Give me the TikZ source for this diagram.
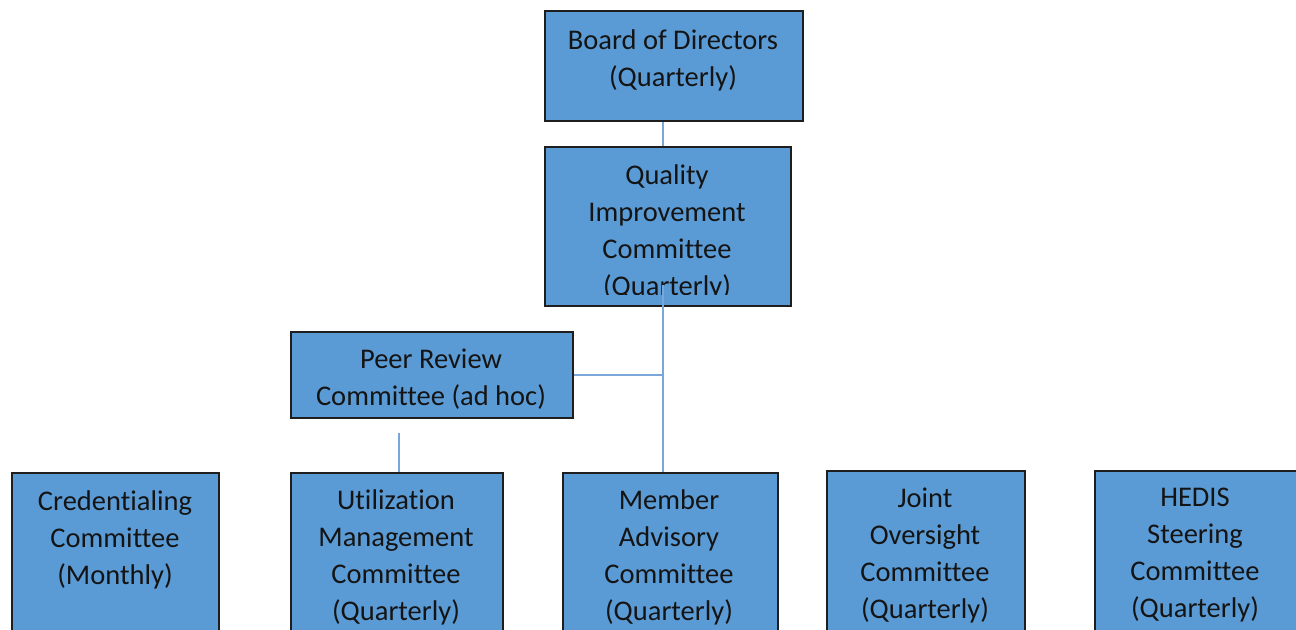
\documentclass[tikz,border=0pt]{standalone}
\usepackage{fontspec}
\setmainfont{Carlito}[Ligatures=NoCommon]
\definecolor{boxfill}{HTML}{5B9BD5}
\definecolor{boxline}{HTML}{1E1E1E}
\definecolor{connline}{HTML}{7AA6DA}
\definecolor{txtcol}{HTML}{141414}
\begin{document}
\begin{tikzpicture}[x=1bp,y=-1bp,
  box/.style={draw=boxline, line width=2bp, fill=boxfill, rectangle, anchor=north west, inner sep=0pt},
  txt/.style={text=txtcol, align=center, font=\fontsize{28.5bp}{37bp}\selectfont, inner sep=0pt},
  conn/.style={draw=connline, line width=1.3bp}]
\useasboundingbox (0,0) rectangle (1296,630);
\clip (0,0) rectangle (1296,630);
% boxes
\node[box, minimum width=258bp, minimum height=110bp] (board) at (544,10) {};
\node[box, minimum width=246bp, minimum height=159bp] (qic) at (544,146) {};
\node[box, minimum width=282bp, minimum height=86bp] (peer) at (290,331) {};
\node[box, minimum width=207bp, minimum height=220bp] (cred) at (11,472) {};
\node[box, minimum width=212bp, minimum height=220bp] (um) at (290,472) {};
\node[box, minimum width=215bp, minimum height=220bp] (mac) at (562,472) {};
\node[box, minimum width=198bp, minimum height=220bp] (joc) at (826,470) {};
\node[box, minimum width=202bp, minimum height=220bp] (hedis) at (1094,470) {};
% texts
\node[txt] (boardt) at (673,60) {Board of Directors\\(Quarterly)};
\begin{scope}
\clip (545,147) rectangle (789,295);
\node[txt] (qict) at (667,232) {Quality\\Improvement\\Committee\\(Quarterly)};
\end{scope}
\node[txt] (peert) at (431,379) {Peer Review\\Committee (ad hoc)};
\node[txt] (credt) at (115,540) {Credentialing\\Committee\\(Monthly)};
\node[txt] (umt) at (396,557) {Utilization\\Management\\Committee\\(Quarterly)};
\node[txt] (mact) at (669,557) {Member\\Advisory\\Committee\\(Quarterly)};
\node[txt] (joct) at (925,555) {Joint\\Oversight\\Committee\\(Quarterly)};
\node[txt] (hedist) at (1195,555) {HEDIS\\Steering\\Committee\\(Quarterly)};
% connectors
\coordinate (trunk) at (663,0);
\coordinate (qicstart) at (663,285);
\coordinate (umstub) at (399,433);
\draw[conn] (board.south -| trunk) -- (qic.north -| trunk);
\draw[conn] (qicstart) -- (mac.north -| trunk);
\draw[conn] (peer.east) -- (peer.east -| trunk);
\draw[conn] (umstub) -- (um.north -| umstub);
\end{tikzpicture}
\end{document}
